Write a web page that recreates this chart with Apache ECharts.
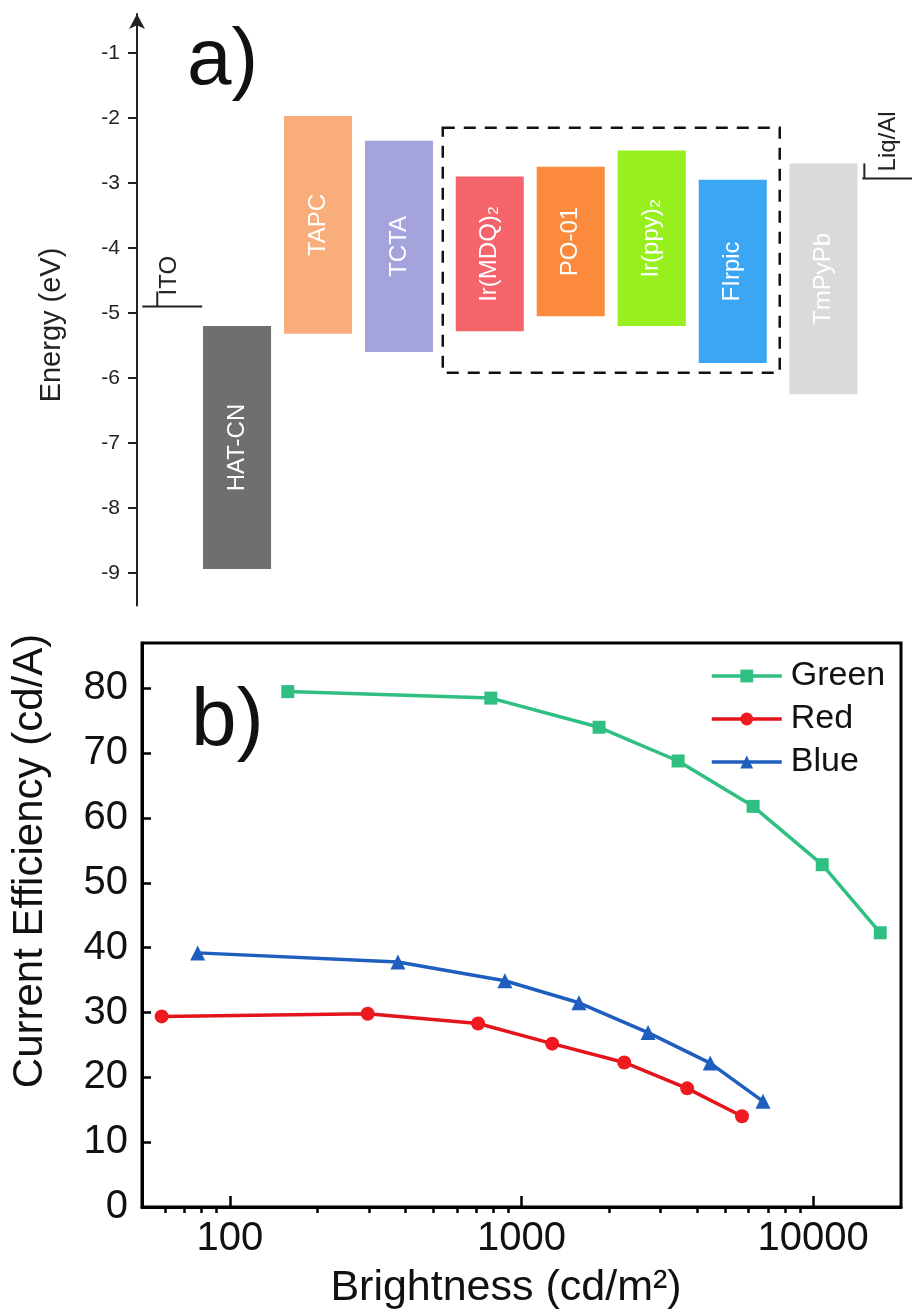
<!DOCTYPE html>
<html>
<head>
<meta charset="utf-8">
<script src="https://cdn.jsdelivr.net/npm/echarts@6/dist/echarts.min.js"></script>
<style>
  html, body { margin: 0; padding: 0; background: #fff; }
  #chart { width: 912px; height: 1313px; }
</style>
</head>
<body>
<div id="chart"></div>
<script>
// ---- (a) energy level diagram ----
const materials = ['HAT-CN', 'TAPC', 'TCTA', 'Ir(MDQ)₂', 'PO-01', 'Ir(ppy)₂', 'FIrpic', 'TmPyPb'];
const lumoLevels = [-5.2, -1.97, -2.35, -2.9, -2.75, -2.5, -2.95, -2.7];
const homoLevels = [-8.94, -5.32, -5.6, -5.28, -5.05, -5.2, -5.77, -6.25];
const electrodes = ['ITO', 'Liq/Al'];
const workFunctions = [-4.9, -2.93];
const energyTicks = [-9, -8, -7, -6, -5, -4, -3, -2, -1];

// ---- (b) current efficiency vs brightness ----
const greenBrightness = [158, 785, 1845, 3443, 6223, 10740, 16980];
const greenEfficiency = [79.5, 78.5, 74.0, 68.8, 61.8, 52.8, 42.3];
const redBrightness = [58.4, 297, 710, 1274, 2250, 3698, 5700];
const redEfficiency = [29.4, 29.8, 28.3, 25.2, 22.3, 18.3, 14.0];
const blueBrightness = [77.6, 377, 877, 1574, 2716, 4436, 6730];
const blueEfficiency = [39.2, 37.8, 34.9, 31.5, 26.9, 22.2, 16.3];
const efficiencyTicks = [0, 10, 20, 30, 40, 50, 60, 70, 80];
const brightnessTicks = [100, 1000, 10000];
const brightnessMinorTicks = [60, 70, 80, 90, 200, 300, 400, 500, 600, 700, 800, 900,
  2000, 3000, 4000, 5000, 6000, 7000, 8000, 9000];

// fills for the layer blocks
const layerColors = ['#6f6f6f', '#f9ad7b', '#a5a3dc', '#f5646b', '#fb8a3d', '#97ef1e', '#3aa6f4', '#dadada'];
const FONT = '"Liberation Sans", Arial, sans-serif';

// horizontal slot of each layer: emitters sit in their own (boxed) group
const BAR_W = 0.84;
function slotX(i) {
  return i + (i >= 3 ? 0.12 : 0) + (i >= 7 ? 0.12 : 0);
}

const zip = (xs, ys) => xs.map((x, k) => [x, ys[k]]);

const chart = echarts.init(document.getElementById('chart'), null, { renderer: 'canvas' });

const option = {
  animation: false,
  backgroundColor: '#fff',
  grid: [
    { left: 137, right: 0, top: 14, bottom: 707.5 },
    { left: 142, right: 11, top: 643, bottom: 106, show: true, borderColor: '#000', borderWidth: 3, backgroundColor: 'transparent' }
  ],
  xAxis: [
    { gridIndex: 0, type: 'value', min: -1.235, max: 8.333, show: false },
    {
      gridIndex: 1, type: 'log', min: 50, max: 20000,
      axisLine: { onZero: false, lineStyle: { color: '#000', width: 3 } },
      axisTick: { inside: true, length: 11, customValues: brightnessTicks, lineStyle: { color: '#000', width: 2.5 } },
      axisLabel: { customValues: brightnessTicks, fontSize: 40, fontFamily: FONT, color: '#111', margin: 12,
        formatter: v => String(Math.round(v)) },
      splitLine: { show: false }
    },
    {
      gridIndex: 1, type: 'log', min: 50, max: 20000,
      axisLine: { show: false },
      axisTick: { inside: true, length: 6, customValues: brightnessMinorTicks, lineStyle: { color: '#000', width: 2.5 } },
      axisLabel: { show: false },
      splitLine: { show: false }
    }
  ],
  yAxis: [
    {
      gridIndex: 0, type: 'value', min: -9.5, max: -0.4,
      axisLine: { show: true, onZero: false, symbol: ['none', 'arrow'], symbolSize: [12, 15], symbolOffset: [0, 0],
        lineStyle: { color: '#222', width: 2 } },
      axisTick: { show: true, length: 9, customValues: energyTicks, lineStyle: { color: '#222', width: 2 } },
      axisLabel: { customValues: energyTicks, fontSize: 21, fontFamily: FONT, color: '#222', margin: 17 },
      splitLine: { show: false }
    },
    {
      gridIndex: 1, type: 'value', min: 0, max: 87,
      axisLine: { show: true, onZero: false, lineStyle: { color: '#000', width: 3 } },
      axisTick: { inside: true, length: 9, customValues: efficiencyTicks, lineStyle: { color: '#000', width: 2.5 } },
      axisLabel: { customValues: efficiencyTicks, fontSize: 40, fontFamily: FONT, color: '#111', margin: 14 },
      splitLine: { show: false }
    }
  ],
  legend: {
    data: ['Green', 'Red', 'Blue'],
    orient: 'vertical', left: 710, top: 659, padding: 0,
    itemWidth: 70, itemHeight: 16, itemGap: 9,
    lineStyle: { width: 3.5 },
    textStyle: { fontSize: 34, fontFamily: FONT, color: '#111', padding: [0, 0, 0, 4] }
  },
  graphic: [
    { type: 'text', x: 187, y: 62, style: { text: 'a)', font: '80px ' + FONT, fill: '#111', verticalAlign: 'middle' } },
    { type: 'text', x: 191, y: 722, style: { text: 'b)', font: '82px ' + FONT, fill: '#111', verticalAlign: 'middle' } },
    { type: 'text', x: 52, y: 325, rotation: Math.PI / 2,
      style: { text: 'Energy (eV)', font: '29px ' + FONT, fill: '#222', align: 'center', verticalAlign: 'middle' } },
    { type: 'text', x: 30, y: 861, rotation: Math.PI / 2,
      style: { text: 'Current Efficiency (cd/A)', font: '42px ' + FONT, fill: '#111', align: 'center', verticalAlign: 'middle' } },
    { type: 'text', x: 506, y: 1288,
      style: { text: 'Brightness (cd/m²)', font: '43px ' + FONT, fill: '#111', align: 'center', verticalAlign: 'middle' } }
  ],
  series: [
    {
      // layer blocks spanning LUMO to HOMO
      type: 'custom', xAxisIndex: 0, yAxisIndex: 0, clip: false, silent: true,
      data: materials.map((m, i) => [i, lumoLevels[i], homoLevels[i]]),
      renderItem(params, api) {
        const i = api.value(0);
        const x = slotX(i);
        const top = api.coord([x, api.value(1)]);
        const bot = api.coord([x, api.value(2)]);
        const w = api.size([BAR_W, 0])[0];
        return {
          type: 'group',
          children: [
            { type: 'rect', shape: { x: top[0] - w / 2, y: top[1], width: w, height: bot[1] - top[1] },
              style: { fill: layerColors[i] } },
            { type: 'text', x: top[0], y: (top[1] + bot[1]) / 2, rotation: Math.PI / 2,
              style: { text: materials[i], font: '24px ' + FONT, fill: '#fff', align: 'center', verticalAlign: 'middle' } }
          ]
        };
      }
    },
    {
      // dashed frame around the emitter group
      type: 'custom', xAxisIndex: 0, yAxisIndex: 0, clip: false, silent: true,
      data: [[3, 6]],
      renderItem(params, api) {
        const pad = 0.16;
        const tl = api.coord([slotX(api.value(0)) - BAR_W / 2 - pad, -2.15]);
        const br = api.coord([slotX(api.value(1)) + BAR_W / 2 + pad, -5.92]);
        return {
          type: 'rect',
          shape: { x: tl[0], y: tl[1], width: br[0] - tl[0], height: br[1] - tl[1] },
          style: { fill: 'none', stroke: '#111', lineWidth: 2.5, lineDash: [12, 9] }
        };
      }
    },
    {
      // electrode work functions
      type: 'custom', xAxisIndex: 0, yAxisIndex: 0, clip: false, silent: true,
      data: electrodes.map((e, i) => [i, workFunctions[i]]),
      renderItem(params, api) {
        const i = api.value(0);
        const span = i === 0 ? [-1.17, -0.43] : [7.72, 8.333];
        const tickDx = i === 0 ? 15 : 2;
        const labelDx = i === 0 ? 27 : 26;
        const labelDy = i === 0 ? 11 : 7;
        const a = api.coord([span[0], api.value(1)]);
        const b = api.coord([span[1], api.value(1)]);
        return {
          type: 'group',
          children: [
            { type: 'line', shape: { x1: a[0], y1: a[1], x2: b[0], y2: b[1] }, style: { stroke: '#222', lineWidth: 2 } },
            { type: 'line', shape: { x1: a[0] + tickDx, y1: a[1], x2: a[0] + tickDx, y2: a[1] - 15 }, style: { stroke: '#222', lineWidth: 2 } },
            { type: 'text', x: a[0] + labelDx, y: a[1] - labelDy, rotation: Math.PI / 2,
              style: { text: electrodes[i], font: '24px ' + FONT, fill: '#222', align: 'left', verticalAlign: 'middle' } }
          ]
        };
      }
    },
    {
      name: 'Green', type: 'line', xAxisIndex: 1, yAxisIndex: 1,
      data: zip(greenBrightness, greenEfficiency),
      symbol: 'rect', symbolSize: 13,
      lineStyle: { color: '#2fbf80', width: 3.5 }, itemStyle: { color: '#2fbf80' }
    },
    {
      name: 'Red', type: 'line', xAxisIndex: 1, yAxisIndex: 1,
      data: zip(redBrightness, redEfficiency),
      symbol: 'circle', symbolSize: 14,
      lineStyle: { color: '#e3141c', width: 3.5 }, itemStyle: { color: '#ee1a1f' }
    },
    {
      name: 'Blue', type: 'line', xAxisIndex: 1, yAxisIndex: 1,
      data: zip(blueBrightness, blueEfficiency),
      symbol: 'triangle', symbolSize: 15,
      lineStyle: { color: '#1d5ebe', width: 3.5 }, itemStyle: { color: '#1d5ebe' }
    }
  ]
};

chart.setOption(option);
</script>
</body>
</html>
